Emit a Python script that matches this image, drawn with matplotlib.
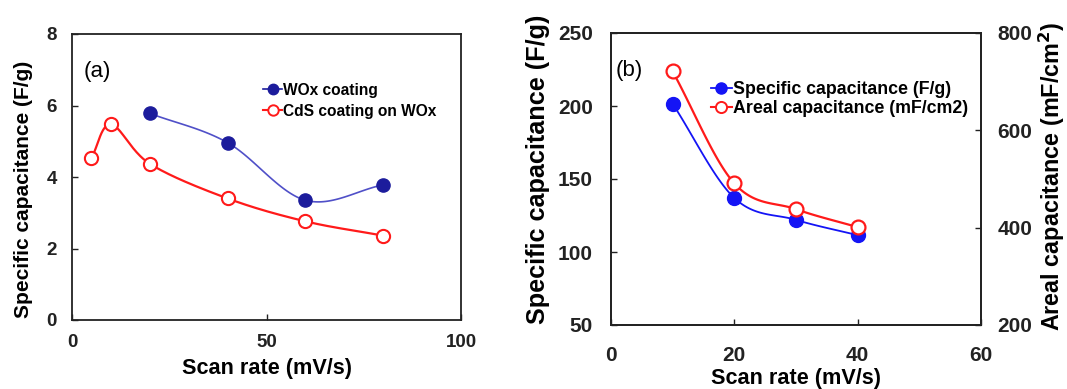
import numpy as np
import matplotlib
matplotlib.use("Agg")
import matplotlib.pyplot as plt

# ---- data ----
scan_a_wox = [20, 40, 60, 80]
cap_wox = [5.78, 4.96, 3.35, 3.78]
scan_a_cds = [5, 10, 20, 40, 60, 80]
cap_cds = [4.53, 5.47, 4.37, 3.40, 2.76, 2.36]

scan_b = [10, 20, 30, 40]
spec_cap = [201.5, 137.0, 122.0, 111.5]
areal_cap = [721, 491, 438, 401]

xticks_a = [0, 50, 100]
yticks_a = [0, 2, 4, 6, 8]
xticks_b = [0, 20, 40, 60]
yticks_b = [50, 100, 150, 200, 250]
yticks_b2 = [200, 400, 600, 800]

plt.rcParams['font.family'] = ['Liberation Sans', 'DejaVu Sans']


def smooth(x, y, n=40):
    """Catmull-Rom style smoothing (like spreadsheet smoothed lines)."""
    x = np.asarray(x, float)
    y = np.asarray(y, float)
    P = np.column_stack([x, y])
    pts = np.vstack([2 * P[0] - P[1], P, 2 * P[-1] - P[-2]])
    out = []
    for i in range(1, len(pts) - 2):
        p0, p1, p2, p3 = pts[i - 1], pts[i], pts[i + 1], pts[i + 2]
        t = np.linspace(0, 1, n)[:, None]
        c = 0.5 * ((2 * p1) + (-p0 + p2) * t + (2 * p0 - 5 * p1 + 4 * p2 - p3) * t ** 2
                   + (-p0 + 3 * p1 - 3 * p2 + p3) * t ** 3)
        out.append(c if i == 1 else c[1:])
    c = np.vstack(out)
    return c[:, 0], c[:, 1]


fig = plt.figure(figsize=(10.67, 3.89), dpi=100)

W, H = 1067, 389


def rect(l, t, r, b):
    return [l / W, 1 - b / H, (r - l) / W, (b - t) / H]


def style(ax):
    for s in ax.spines.values():
        s.set_linewidth(1.3)
        s.set_color('#222222')
    ax.tick_params(direction='in', length=4, width=1.0, colors='#222222')


# ---- panel a ----
axa = fig.add_axes(rect(72, 34, 461, 320))
blue_a = '#1c1c9c'
line_a = '#5050c8'
red = '#ff1a1a'

xs, ys = smooth(scan_a_wox, cap_wox)
axa.plot(xs, ys, color=line_a, lw=1.2, zorder=2)
axa.plot(scan_a_wox, cap_wox, 'o', color=blue_a, ms=9.5, zorder=3)
xs, ys = smooth(scan_a_cds, cap_cds)
axa.plot(xs, ys, color=red, lw=1.6, zorder=2)
axa.plot(scan_a_cds, cap_cds, 'o', mfc='white', mec=red, mew=1.5, ms=9.5, zorder=3)

h1, = axa.plot([], [], '-o', color=blue_a, ms=7.5, lw=1.2, mfc=blue_a, mec=blue_a)
h2, = axa.plot([], [], '-o', color=red, ms=7.5, lw=1.5, mfc='white', mec=red, mew=1.4)
axa.legend([h1, h2], ['WOx coating', 'CdS coating on WOx'], loc='upper left',
           bbox_to_anchor=(0.472, 0.857), frameon=False, handlelength=1.2,
           handletextpad=0.05, labelspacing=0.4, borderpad=0,
           prop={'weight': 'bold', 'size': 11.2})

axa.set_xlim(0, 100)
axa.set_ylim(0, 8)
axa.set_xticks(xticks_a)
axa.set_yticks(yticks_a)
axa.set_xticklabels([str(v) for v in xticks_a], fontsize=13.5, fontweight='bold')
axa.set_yticklabels([str(v) for v in yticks_a], fontsize=13.5, fontweight='bold')
axa.tick_params(axis='x', pad=10)
axa.tick_params(axis='y', pad=11)
style(axa)
axa.set_xlabel('Scan rate (mV/s)', fontsize=15.6, fontweight='bold', labelpad=5)
axa.set_ylabel('Specific capacitance (F/g)', fontsize=15, fontweight='bold')
axa.yaxis.set_label_coords(-0.10, 0.455)
axa.text(0.03, 0.87, '(a)', transform=axa.transAxes, fontsize=16, ha='left', va='center')

# ---- panel b ----
axb = fig.add_axes(rect(611, 33, 981, 325))
blue_b = '#1414f5'
xs, ys = smooth(scan_b, spec_cap)
axb.plot(xs, ys, color=blue_b, lw=1.3, zorder=2)
axb.plot(scan_b, spec_cap, 'o', color=blue_b, ms=10, zorder=3)
axb.set_xlim(0, 60)
axb.set_ylim(50, 250)
axb.set_xticks(xticks_b)
axb.set_yticks(yticks_b)
axb.set_xticklabels([str(v) for v in xticks_b], fontsize=15, fontweight='bold')
axb.set_yticklabels([str(v) for v in yticks_b], fontsize=15, fontweight='bold')
axb.tick_params(axis='x', pad=15)
axb.tick_params(axis='y', pad=13)
style(axb)
axb.set_xlabel('Scan rate (mV/s)', fontsize=15.6, fontweight='bold', labelpad=2)
axb.set_ylabel('Specific capacitance (F/g)', fontsize=18.2, fontweight='bold')
axb.yaxis.set_label_coords(-0.165, 0.534)
axb.text(0.013, 0.87, '(b)', transform=axb.transAxes, fontsize=16, ha='left', va='center')

axb2 = axb.twinx()
xs, ys = smooth(scan_b, areal_cap)
axb2.plot(xs, ys, color=red, lw=1.6, zorder=2)
axb2.plot(scan_b, areal_cap, 'o', mfc='white', mec=red, mew=1.6, ms=10, zorder=3)
axb2.set_ylim(200, 800)
axb2.set_yticks(yticks_b2)
axb2.set_yticklabels([str(v) for v in yticks_b2], fontsize=15, fontweight='bold')
axb2.tick_params(axis='y', pad=12)
style(axb2)
axb2.set_ylabel('Areal capacitance (mF/cm$^\\mathbf{2}$)', fontsize=16.8, fontweight='bold')
axb2.yaxis.set_label_coords(1.152, 0.51)

g1, = axb.plot([], [], '-o', color=blue_b, ms=8, lw=1.3)
g2, = axb.plot([], [], '-o', color=red, ms=8, lw=1.5, mfc='white', mec=red, mew=1.4)
axb2.legend([g1, g2], ['Specific capacitance (F/g)', 'Areal capacitance (mF/cm2)'],
            loc='upper left', bbox_to_anchor=(0.245, 0.865), frameon=False,
            handlelength=1.2, handletextpad=0.05, labelspacing=0.12, borderpad=0,
            prop={'weight': 'bold', 'size': 12.8})

fig.savefig('out.png', dpi=100)
